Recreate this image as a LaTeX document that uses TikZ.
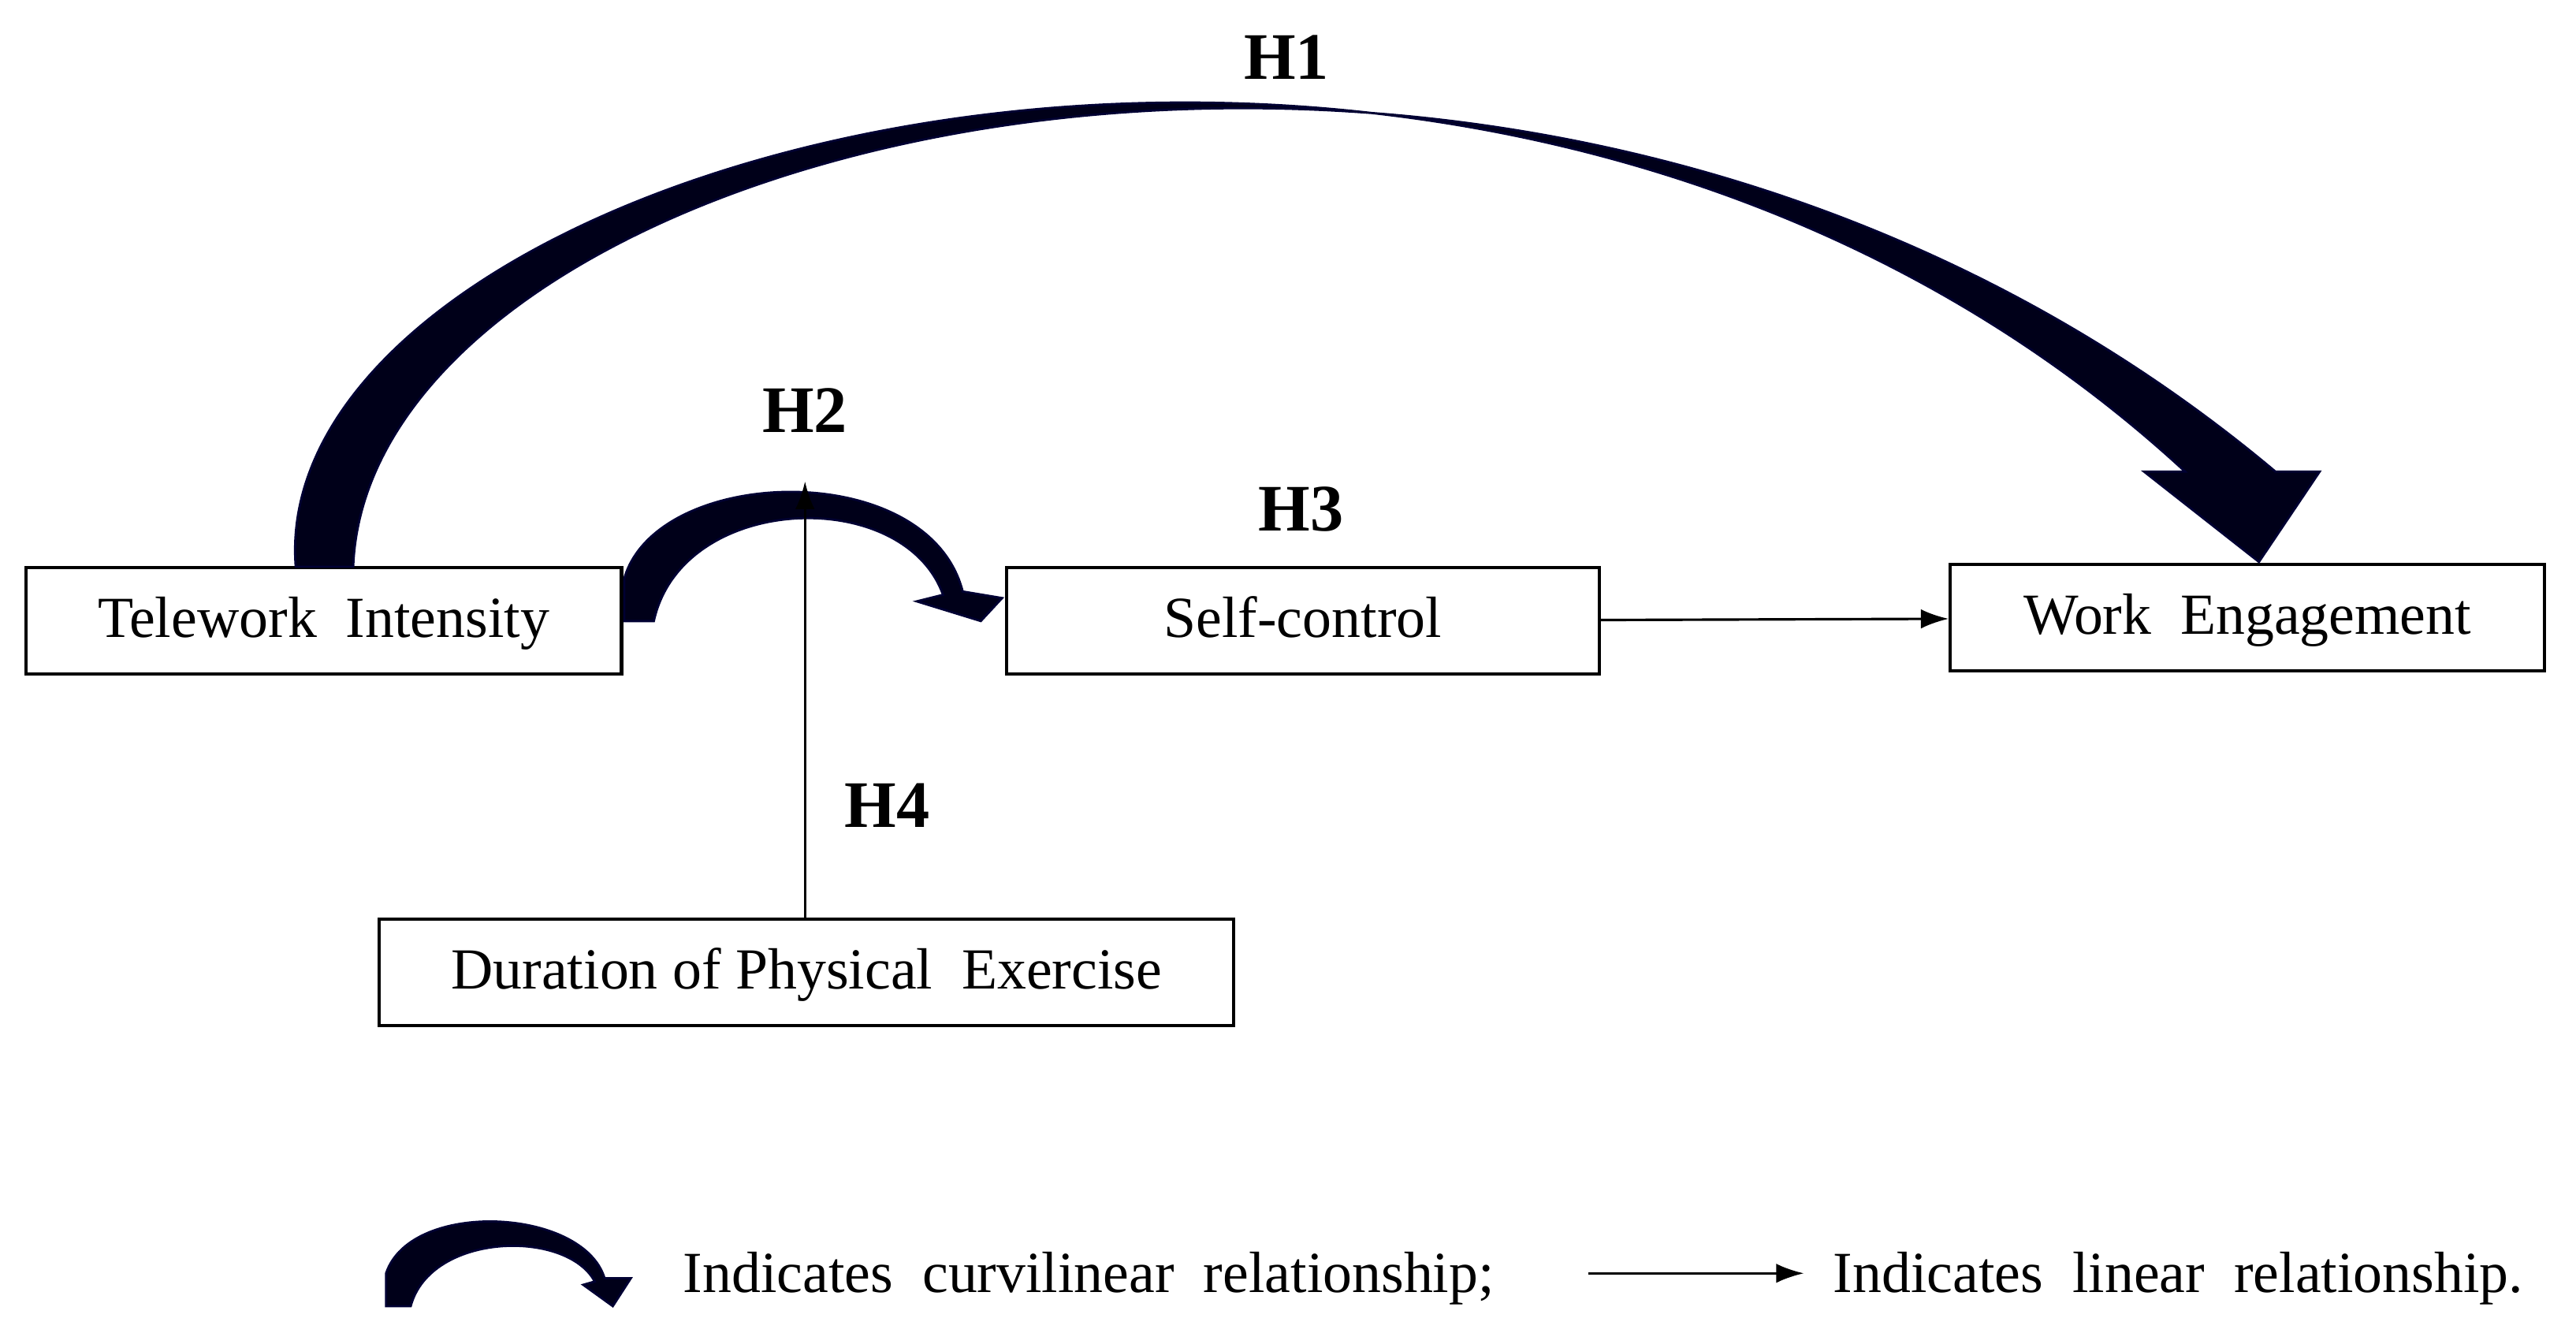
\documentclass[tikz,border=0pt]{standalone}
\usepackage{fontspec}
\setmainfont{Liberation Serif}
\usetikzlibrary{arrows.meta}
\begin{document}
\begin{tikzpicture}[x=0.02084cm,y=-0.02084cm,
        box/.style={draw,line width=1.2pt,minimum height=1.35cm,inner sep=0pt,text depth=0.1cm,font=\fontsize{21}{24}\selectfont},
        hyp/.style={font=\bfseries\fontsize{24}{28}\selectfont},
        curve/.style={fill=black!90!blue,draw=black!80!blue,line width=0.8pt},
        line/.style={-{Latex[length=10pt,width=7pt]},line width=0.9pt}
    ]
        \useasboundingbox (0,0) rectangle (1568,811);
        % Define the boxes
        \node[box,minimum width=7.56cm] (Tele) at (197,378) {Telework\ \ Intensity};
        \node[box,minimum width=7.52cm] (Self) at (793,378) {Self-control};
        \node[box,minimum width=7.54cm] (Work) at (1368,376) {Work\ \ Engagement};
        \node[box,minimum width=10.84cm] (Dur) at (491,592) {Duration of Physical\ \ Exercise};

        % Hypothesis labels
        \node[hyp] (H1) at (783,35) {H1};
        \node[hyp] (H2) at (490,250) {H2};
        \node[hyp] (H3) at (792,310) {H3};
        \node[hyp] (H4) at (540,490) {H4};

        % Curvilinear arrow H1
        \draw[curve] (180,345) .. controls (160,90) and (900,-110) .. (1330,287)
            -- (1305,287) -- (1375,342) -- (1412,287) -- (1385,287)
            .. controls (930,-95) and (225,80) .. (215,345) -- cycle;

        % Curvilinear arrow H2
        \draw[curve] (380,378) -- (380,352) .. controls (400,283) and (565,278) .. (586,360)
            -- (610,364) -- (597,378) -- (558,366) -- (574,362)
            .. controls (550,295) and (415,300) .. (398,378) -- cycle;

        % Linear arrows
        \coordinate (Mod) at (490,293);
        \draw[line] (Dur.north -| Mod) -- (Mod);
        \draw[line] (Self) -- (Work);

        % Legend
        \draw[curve] (235,795) -- (235,775) .. controls (250,730) and (355,735) .. (368,778)
            -- (384,778) -- (373,795) -- (355,782) -- (362,780)
            .. controls (345,748) and (262,750) .. (250,795) -- cycle;
        \node[anchor=west,font=\fontsize{21}{24}\selectfont] (LegC) at (410,778) {Indicates\ \ curvilinear\ \ relationship;};
        \coordinate (LegA) at (967,775);
        \coordinate (LegB) at (1098,775);
        \draw[line] (LegA) -- (LegB);
        \node[anchor=west,font=\fontsize{21}{24}\selectfont] (LegL) at (1110,778) {Indicates\ \ linear\ \ relationship.};
    \end{tikzpicture}
\end{document}
